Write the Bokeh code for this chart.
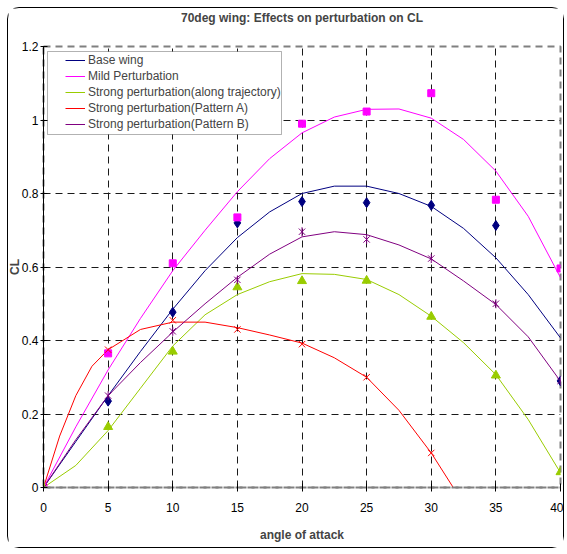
import numpy as np
from bokeh.plotting import figure
from bokeh.models import FixedTicker, Legend, LegendItem, BoxAnnotation, Title
from bokeh.embed import file_html
from bokeh.resources import INLINE

# ---- marker data ----
angle = [0, 5, 10, 15, 20, 25, 30, 35, 40]
base_wing = [0, 0.235, 0.477, 0.72, 0.778, 0.775, 0.768, 0.713, 0.29]
mild = [0, 0.365, 0.61, 0.735, 0.99, 1.023, 1.073, 0.783, 0.596]
strong_traj = [0, 0.165, 0.37, 0.545, 0.562, 0.563, 0.465, 0.305, 0.042]
angle_a = [0, 5, 10, 15, 20, 25, 30]
pattern_a = [0, 0.375, 0.455, 0.43, 0.39, 0.30, 0.094]
pattern_b = [0, 0.25, 0.425, 0.565, 0.696, 0.675, 0.623, 0.50, 0.29]

# ---- curve (line series) data ----
curve_x = [0, 2.5, 5, 7.5, 10, 12.5, 15, 17.5, 20, 22.5, 25, 27.5, 30, 32.5, 35, 37.5, 40]
base_curve = [0, 0.125, 0.25, 0.37, 0.485, 0.59, 0.68, 0.75, 0.80, 0.82, 0.82, 0.80, 0.765, 0.705, 0.625, 0.525, 0.407]
mild_curve = [0, 0.165, 0.32, 0.46, 0.59, 0.70, 0.805, 0.895, 0.965, 1.008, 1.029, 1.03, 1.005, 0.947, 0.861, 0.738, 0.571]
traj_curve = [0, 0.06, 0.155, 0.27, 0.385, 0.47, 0.525, 0.56, 0.582, 0.58, 0.566, 0.525, 0.466, 0.394, 0.307, 0.185, 0.04]
pat_a_curve_x = [0, 1.25, 2.5, 3.75, 5, 7.5, 10, 12.5, 15, 17.5, 20, 22.5, 25, 27.5, 30, 31.7]
pat_a_curve = [0, 0.14, 0.25, 0.33, 0.375, 0.43, 0.45, 0.45, 0.435, 0.415, 0.393, 0.353, 0.30, 0.21, 0.094, 0]
pat_b_curve = [0, 0.13, 0.25, 0.34, 0.423, 0.50, 0.572, 0.635, 0.682, 0.696, 0.688, 0.66, 0.622, 0.562, 0.498, 0.41, 0.289]

x_ticks = [0, 5, 10, 15, 20, 25, 30, 35, 40]
y_ticks = [0, 0.2, 0.4, 0.6, 0.8, 1.0, 1.2]
y_labels = ["0", "0.2", "0.4", "0.6", "0.8", "1", "1.2"]

title_text = "70deg wing: Effects on perturbation on CL"
x_title = "angle of attack"
y_title = "CL"
names = ["Base wing", "Mild Perturbation", "Strong perturbation(along trajectory)",
         "Strong perturbation(Pattern A)", "Strong perturbation(Pattern B)"]
colors = ["#000080", "#FF00FF", "#99CC00", "#FF0000", "#800080"]

FONT = "Liberation Sans"

p = figure(width=557, height=541, x_range=(0, 40), y_range=(0, 1.2),
           output_backend="svg", toolbar_location=None,
           min_border_left=35, min_border_right=5, min_border_top=38, min_border_bottom=62)
p.margin = (7, 0, 0, 7)
p.styles = {"border": "1px solid black", "border-radius": "12px"}

# spacer between the frame and the chart title (items added to "above" sit nearest the frame)
p.add_layout(Title(text=" ", text_font=FONT, text_font_size="12px", standoff=6), "above")

p.title.text = title_text
p.title.align = "center"
p.title.text_font = FONT
p.title.text_font_size = "12px"
p.title.text_font_style = "bold"
p.title.standoff = 0

# y-axis title, stacked left of the y axis
y_title_obj = Title(text=y_title, align="center", text_font=FONT, text_font_size="12px",
                    text_font_style="bold")
try:
    y_title_obj.standoff = -6
except Exception:
    y_title_obj.standoff = 0
p.add_layout(y_title_obj, "left")

p.outline_line_color = "#808080"
p.outline_line_dash = "7 5"
p.outline_line_width = 2
p.background_fill_color = "white"
p.border_fill_color = "white"

for ax in (p.xaxis[0], p.yaxis[0]):
    ax.major_label_text_font = FONT
    ax.major_label_text_font_size = "12px"
    ax.major_label_text_color = "black"
    ax.axis_label_text_font = FONT
    ax.axis_label_text_font_size = "12px"
    ax.axis_label_text_font_style = "bold"
    ax.minor_tick_line_color = None
    ax.major_tick_line_color = "black"

p.xaxis.ticker = FixedTicker(ticks=x_ticks)
p.yaxis.ticker = FixedTicker(ticks=y_ticks)
p.yaxis.major_label_overrides = {t: l for t, l in zip(y_ticks, y_labels)}
p.xaxis.axis_label = x_title
p.xaxis.axis_line_color = "#808080"
p.xaxis.axis_line_dash = "7 5"
p.xaxis.axis_line_width = 2
p.xaxis.major_tick_in = 4
p.xaxis.major_tick_out = 4
p.xaxis.major_label_standoff = 11
p.xaxis.axis_label_standoff = 13
p.yaxis.axis_line_color = "black"
p.yaxis.major_tick_in = 4
p.yaxis.major_tick_out = 3
p.yaxis.major_label_standoff = 2

p.xgrid.ticker = FixedTicker(ticks=x_ticks[1:-1])
p.ygrid.ticker = FixedTicker(ticks=y_ticks[1:-1])
for g in (p.xgrid[0], p.ygrid[0]):
    g.grid_line_color = "#1a1a1a"
    g.grid_line_dash = "7 5"
    g.grid_line_width = 1

curves = [(curve_x, base_curve), (curve_x, mild_curve), (curve_x, traj_curve),
          (pat_a_curve_x, pat_a_curve), (curve_x, pat_b_curve)]

items = []
for (x, y), c, n in zip(curves, colors, names):
    r = p.line(x, y, line_color=c, line_width=1)
    items.append(LegendItem(label=n, renderers=[r]))

p.scatter(angle, base_wing, marker="diamond", size=10, color=colors[0])
p.scatter(angle, mild, marker="square", size=7, color=colors[1])
p.scatter(angle, strong_traj, marker="triangle", size=9, color=colors[2])
p.scatter(angle_a, pattern_a, marker="x", size=9, line_color=colors[3], line_width=1)
p.scatter(angle, pattern_b, marker="x", size=9, line_color=colors[4], line_width=1)
p.scatter(angle, pattern_b, marker="dash", angle=np.pi / 2, size=9, line_color=colors[4], line_width=1)

# legend frame (screen units, relative to plot frame)
box = BoxAnnotation(left=4, right=238, top=436, bottom=353,
                    left_units="screen", right_units="screen",
                    top_units="screen", bottom_units="screen",
                    fill_color="white", fill_alpha=1.0,
                    line_color="black", line_width=1, level="annotation")
p.add_layout(box)

legend = Legend(items=items, location=(22, 355))
legend.label_text_font = FONT
legend.label_text_font_size = "12px"
legend.border_line_color = None
legend.background_fill_alpha = 0
legend.glyph_width = 20
legend.glyph_height = 16
legend.label_height = 16
legend.spacing = 0
legend.padding = 0
legend.margin = 0
legend.label_standoff = 3
p.add_layout(legend)

open("out.html", "w").write(file_html(p, INLINE))
